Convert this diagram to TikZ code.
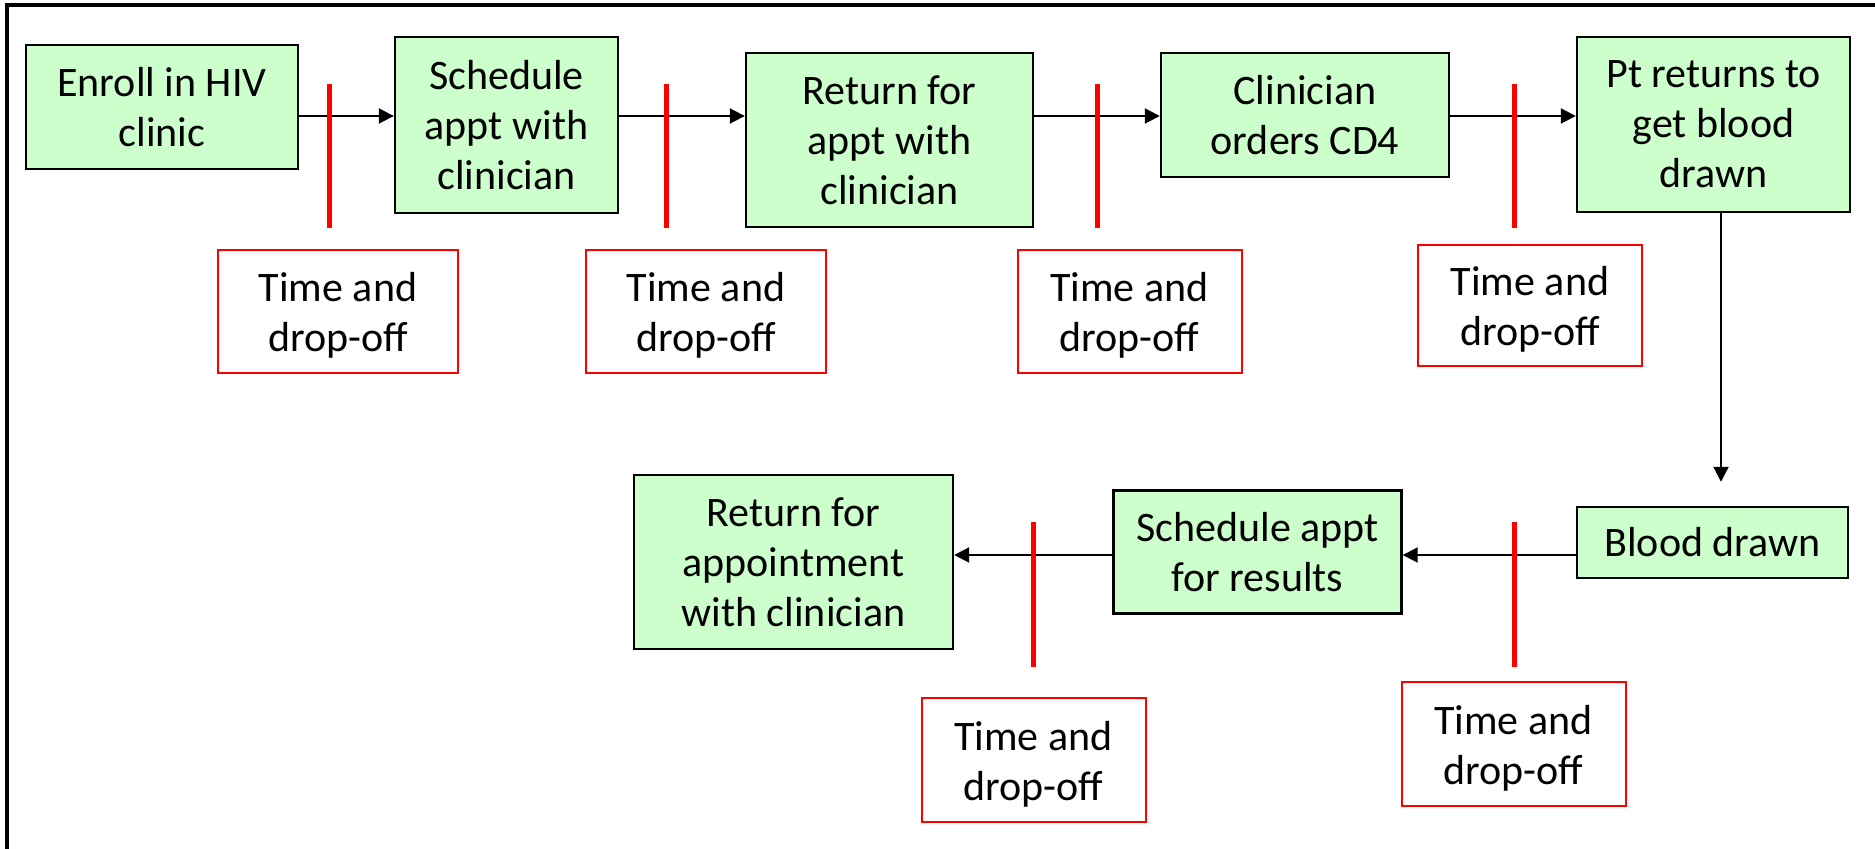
\documentclass[tikz,border=0pt]{standalone}
\usepackage{fontspec}
\setmainfont{Carlito}
\usetikzlibrary{arrows.meta}
\definecolor{boxgreen}{HTML}{CCFFCC}
\begin{document}
\begin{tikzpicture}[x=0.5pt,y=-0.5pt,
  stepbox/.style={draw=black,line width=1.2pt,fill=boxgreen,align=center,inner sep=0pt,font=\fontsize{21}{25}\selectfont},
  timebox/.style={draw=red,line width=1pt,fill=white,inner sep=0pt,minimum width=112pt,minimum height=61.5pt,
    label={[font=\fontsize{21}{25}\selectfont,align=center,yshift=-2pt]center:Time and\\drop-off}},
  flow/.style={line width=1pt,-{Triangle[length=7.5pt,width=7.5pt]}},
  redbar/.style={draw=red,line width=2.5pt}]
\useasboundingbox (0,0) rectangle (1875,849);
\clip (0,0) rectangle (1875,849);
% frame
\draw[line width=2pt] (6.5,880) -- (6.5,5) -- (1890,5);

% process steps
\node[stepbox,minimum width=136pt,minimum height=62pt] (enroll) at (162,107) {Enroll in HIV\\clinic};
\node[stepbox,minimum width=111.5pt,minimum height=88pt] (sched) at (506.5,125) {Schedule\\appt with\\clinician};
\node[stepbox,minimum width=143.5pt,minimum height=87pt] (ret1) at (889.5,140) {Return for\\appt with\\clinician};
\node[stepbox,minimum width=144pt,minimum height=62pt] (cd4) at (1305,115) {Clinician\\orders CD4};
\node[stepbox,minimum width=136.5pt,minimum height=87.5pt] (pt) at (1713.5,124.5) {Pt returns to\\get blood\\drawn};
\node[stepbox,minimum width=135.5pt,minimum height=35.5pt] (blood) at (1712.5,542.5) {Blood drawn};
\node[stepbox,minimum width=144pt,minimum height=61.5pt] (res) at (1257.5,552) {Schedule appt\\for results};
\node[stepbox,minimum width=159.5pt,minimum height=87pt] (ret2) at (793.5,562) {Return for\\appointment\\with clinician};

% time and drop-off boxes
\node[timebox,minimum width=120pt] (t1) at (338,311.5) {};
\node[timebox,minimum width=120pt] (t2) at (706,311.5) {};
\node[timebox] (t3) at (1129.5,311.5) {};
\node[timebox,minimum height=60.5pt] (t4) at (1530,305.5) {};
\node[timebox] (t5) at (1513.5,744) {};
\node[timebox,minimum height=62pt] (t6) at (1033.5,760) {};

% connectors
\coordinate (ay) at (0,116);
\coordinate (by) at (0,555);
\coordinate (vx) at (1721,0);
\draw[flow] (enroll.east |- ay) -- (sched.west |- ay);
\draw[flow] (sched.east |- ay) -- (ret1.west |- ay);
\draw[flow] (ret1.east |- ay) -- (cd4.west |- ay);
\draw[flow] (cd4.east |- ay) -- (pt.west |- ay);
\draw[flow,shorten >=12pt] (pt.south -| vx) -- (blood.north -| vx);
\draw[flow] (blood.west |- by) -- (res.east |- by);
\draw[flow] (res.west |- by) -- (ret2.east |- by);

% red markers
\draw[redbar] (329.5,84) -- (329.5,228);
\draw[redbar] (666,84) -- (666,228);
\draw[redbar] (1097,84) -- (1097,228);
\draw[redbar] (1514,84) -- (1514,228);
\draw[redbar] (1514,522) -- (1514,667);
\draw[redbar] (1033.5,522) -- (1033.5,667);
\end{tikzpicture}
\end{document}
